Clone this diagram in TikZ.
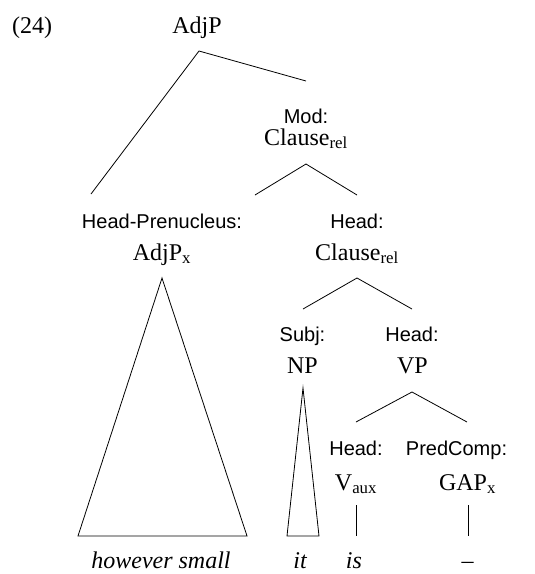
\documentclass[tikz,border=0pt]{standalone}
\usepackage{fontspec}
\setmainfont{Liberation Serif}
\newfontfamily\labelfont{Liberation Sans}
\begin{document}
\begin{tikzpicture}[x=1pt,y=-1pt,
  cat/.style={anchor=base,inner sep=0pt,font=\fontsize{24}{28}\selectfont},
  fn/.style={anchor=base,inner sep=0pt,font=\labelfont\fontsize{20}{24}\selectfont},
  word/.style={anchor=base,inner sep=0pt,font=\fontsize{24}{28}\selectfont\itshape},
  branch/.style={draw=black,line width=0.8pt,line join=miter}]
\useasboundingbox (0,0) rectangle (535,574);

% example number and root
\node[cat,anchor=base west] (exnum) at (12,33) {(24)};
\node[cat] (root) at (197,33) {AdjP};

% relative clause modifier
\node[fn]  (modfn)  at (306,123) {Mod:};
\node[cat] (modcat) at (306,145) {Clause\textsubscript{rel}};

% prenucleus
\node[fn]  (prefn)  at (162,228) {Head-Prenucleus:};
\node[cat] (precat) at (162,260) {AdjP\textsubscript{x}};

% head clause
\node[fn]  (hdfn)  at (357,228) {Head:};
\node[cat] (hdcat) at (357,260) {Clause\textsubscript{rel}};

% subject and VP
\node[fn]  (subjfn)  at (302.5,341) {Subj:};
\node[cat] (subjcat) at (302.5,373) {NP};
\node[fn]  (vpfn)    at (412,341) {Head:};
\node[cat] (vpcat)   at (412.5,373) {VP};

% auxiliary and gap
\node[fn]  (auxfn)  at (356,455) {Head:};
\node[cat] (auxcat) at (356,490) {V\textsubscript{aux}};
\node[fn]  (pcfn)   at (456.5,455) {PredComp:};
\node[cat] (gapcat) at (467.5,490) {GAP\textsubscript{x}};

% terminal words
\node[word] (w1) at (161,568) {however small};
\node[word] (w2) at (300,568) {it};
\node[word] (w3) at (354,568) {is};
\node[word] (w4) at (467.5,568) {--};

% attachment points of the branches
\coordinate (root-dn) at (199,51);
\coordinate (mod-up)  at (306,81);
\coordinate (pre-up)  at (91,194);
\coordinate (mod-dn)  at (306,164);
\coordinate (hd-up)   at (357,195);
\coordinate (pre-tri) at (255,195);
\coordinate (pre-dn)  at (162,278);
\coordinate (hd-dn)   at (357,278);
\coordinate (subj-up) at (303,309);
\coordinate (vp-up)   at (412,309);
\coordinate (subj-dn) at (303,388);
\coordinate (vp-dn)   at (412,392);
\coordinate (aux-up)  at (356,422);
\coordinate (gap-up)  at (467,422);
\coordinate (aux-dn)  at (356,505);
\coordinate (aux-w)   at (356,536);
\coordinate (gap-dn)  at (468,505);
\coordinate (gap-w)   at (468,536);

% branches
\draw[branch] (pre-up) -- (root-dn) -- (mod-up);
\draw[branch] (pre-tri) -- (mod-dn) -- (hd-up);
\draw[branch] (subj-up) -- (hd-dn) -- (vp-up);
\draw[branch] (aux-up) -- (vp-dn) -- (gap-up);
\draw[branch] (aux-dn) -- (aux-w);
\draw[branch] (gap-dn) -- (gap-w);

% collapsed constituents
\draw[branch] (pre-dn) -- (78,536) -- (247,536) -- cycle;
\draw[branch] (subj-dn) -- (287,536) -- (319,536) -- cycle;
\end{tikzpicture}
\end{document}
